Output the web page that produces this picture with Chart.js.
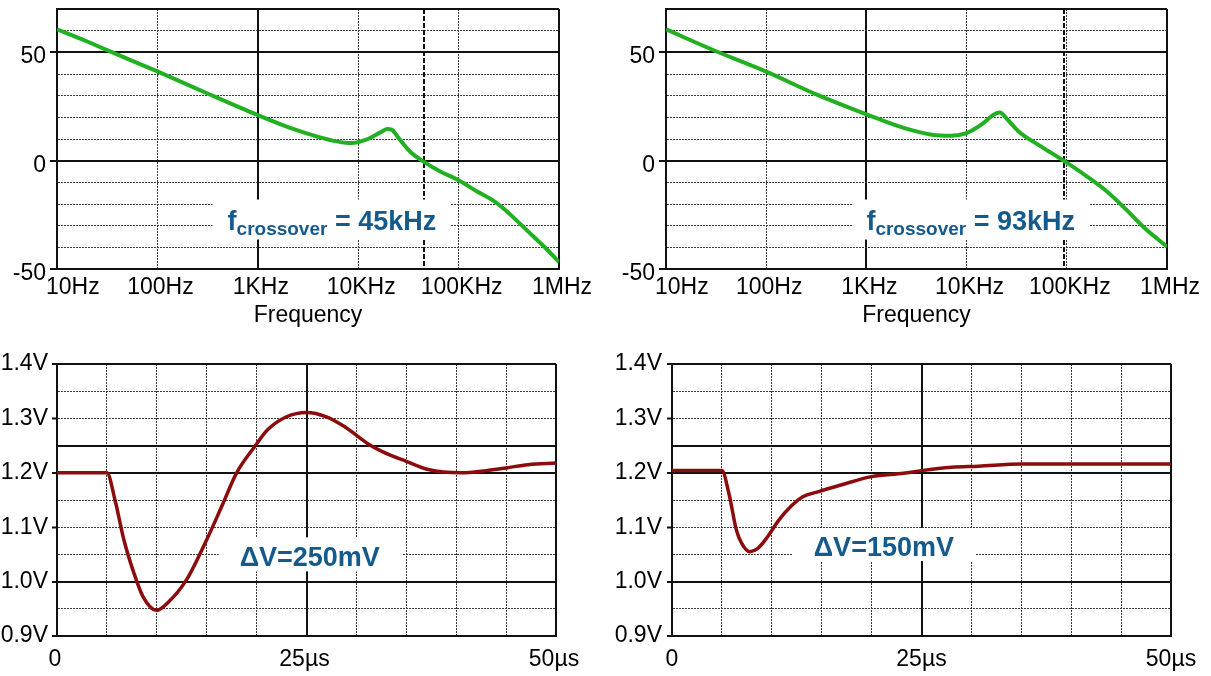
<!DOCTYPE html>
<html>
<head>
<meta charset="utf-8">
<title>Bode plots and load step</title>
<script src="https://cdn.jsdelivr.net/npm/chart.js@4.4.1/dist/chart.umd.min.js"></script>
<style>
  body { margin: 0; background: #fff; width: 1211px; height: 676px; position: relative; overflow: hidden; }
  canvas { position: absolute; }
</style>
</head>
<body>
<canvas id="gainA" width="605" height="335" style="left:0;top:0"></canvas>
<canvas id="gainB" width="606" height="335" style="left:605px;top:0"></canvas>
<canvas id="stepA" width="605" height="341" style="left:0;top:335px"></canvas>
<canvas id="stepB" width="606" height="341" style="left:605px;top:335px"></canvas>
<script>
// loop gain, left: crossover 45kHz
var freqA = [10, 20, 31.6, 100, 316, 1000, 2000, 4000, 6300, 8500, 12000, 17000, 19500, 21500, 26000, 34000, 44000, 65000, 100000, 150000, 225000, 282000, 355000, 550000, 760000, 1000000];
var gainA = [60.6, 55, 51, 41.2, 31, 21, 15.5, 11, 8.8, 8.1, 9.7, 13.3, 14.6, 14.3, 9.7, 3.5, -0.2, -4.9, -9, -14, -18.7, -22.2, -26.4, -34.8, -41, -46.8];
// loop gain, right: crossover 93kHz
var freqB = [10, 31.6, 100, 316, 1000, 2400, 4500, 7000, 10000, 14000, 18600, 21400, 25700, 33000, 55000, 93000, 158000, 250000, 390000, 617000, 1000000];
var gainB = [60.6, 50.5, 41.1, 30.6, 21.4, 15, 12, 11.5, 12.7, 16.6, 21.2, 22.2, 18.9, 13.5, 6.6, 0, -7.2, -14.1, -22.5, -31.7, -39.7];
var crossover = [45000, 93000];

// load step response (us, V)
var timeA = [0, 5, 5.8, 6.7, 7.7, 8.6, 10, 11.1, 13, 15, 16.5, 18, 19.8, 21.1, 23, 25, 27, 28.8, 31.1, 32.6, 35, 37.2, 40.5, 43, 45, 47.2, 50];
var voutA = [1.2, 1.2, 1.151, 1.077, 1.016, 0.973, 0.947, 0.961, 1.004, 1.077, 1.138, 1.2, 1.248, 1.279, 1.303, 1.311, 1.303, 1.285, 1.254, 1.239, 1.221, 1.206, 1.2, 1.204, 1.209, 1.215, 1.218];
var timeB = [0, 5, 5.7, 6.45, 7.0, 7.8, 8.6, 9.6, 10.7, 11.9, 13.1, 14.6, 17, 20, 23.2, 25, 28, 30.7, 35, 50];
var voutB = [1.204, 1.204, 1.162, 1.095, 1.07, 1.055, 1.061, 1.083, 1.113, 1.138, 1.156, 1.165, 1.178, 1.193, 1.199, 1.204, 1.21, 1.212, 1.216, 1.216];

// axes
var freqTicks = [10, 100, 1000, 10000, 100000, 1000000];
var freqLabels = ['    10Hz', '100Hz', '1KHz', '10KHz', '100KHz', '1MHz'];
var freqSolid = [10, 1000, 1000000];
var gainTicks = [-50, -40, -30, -20, -10, 0, 10, 20, 30, 40, 50, 60, 70];
var gainLabels = ['-50', '', '', '', '', '0', '', '', '', '', '50', '', ''];
var gainSolid = [-50, 0, 50, 70];
var timeTicks = [0, 5, 10, 15, 20, 25, 30, 35, 40, 45, 50];
var timeLabels = ['0', '', '', '', '', '25\u00b5s', '', '', '', '', '50\u00b5s'];
var timeSolid = [0, 25, 50];
var voltTicks = [0.9, 0.95, 1.0, 1.05, 1.1, 1.15, 1.2, 1.25, 1.3, 1.35, 1.4];
var voltLabels = ['0.9V', '', '1.0V', '', '1.1V', '', '1.2V', '', '1.3V', '', '1.4V'];
var voltSolid = [0.9, 1.0, 1.2, 1.25, 1.4];

var FONT = '"Liberation Sans", Arial, sans-serif';
var green = '#21b021';
var darkRed = '#8b0c0c';
var blue = '#145a8c';

Chart.defaults.font.family = FONT;
Chart.defaults.color = '#000';

function isOn(list, v) {
	for (var i = 0; i < list.length; i++) {
		if (Math.abs(list[i] - v) <= 1e-6 * Math.max(1, Math.abs(v))) return true;
	}
	return false;
}

function axis(ticks, labels, solid, tickLen, pad, fitSize, offset) {
	var isSolid = function(c) { return !c.tick || isOn(solid, c.tick.value); };
	return {
		afterBuildTicks: function(a) { a.ticks = ticks.map(function(v) { return {value: v}; }); },
		afterFit: function(a) { if (a.isHorizontal()) a.height = fitSize; else a.width = fitSize; },
		ticks: {
			autoSkip: false, maxRotation: 0, minRotation: 0, padding: pad, labelOffset: offset,
			// empty labels get a tiny font so they take no room in the layout
			font: function(c) { return {size: labels[c.index] ? 23 : 1}; },
			color: '#000',
			callback: function(v, i) { return labels[i]; }
		},
		grid: {
			drawTicks: tickLen > 0, tickLength: tickLen, tickWidth: 2,
			tickColor: function(c) { return labels[c.index] ? '#111' : 'rgba(0,0,0,0)'; },
			color: function(c) { return isSolid(c) ? '#111' : '#3a3a3a'; },
			lineWidth: function(c) { return isSolid(c) ? 2 : 1; }
		},
		border: {
			display: true, color: '#111', width: 2,
			dash: function(c) { return isSolid(c) ? [] : [2, 1]; }
		}
	};
}

// white box with blue text, plus the dashed crossover marker
var notePlugin = {
	id: 'note',
	beforeDatasetsDraw: function(chart, args, o) {
		var ctx = chart.ctx, xs = chart.scales.x, ys = chart.scales.y, area = chart.chartArea;
		ctx.save();
		if (o.marker) {
			var mx = Math.round(xs.getPixelForValue(o.marker));
			ctx.strokeStyle = '#111';
			ctx.lineWidth = 2;
			ctx.setLineDash([5, 2]);
			ctx.beginPath();
			ctx.moveTo(mx, area.top);
			ctx.lineTo(mx, area.bottom);
			ctx.stroke();
			ctx.setLineDash([]);
		}
		var big = 'bold 27px ' + FONT, small = 'bold 19px ' + FONT;
		var x0 = xs.getPixelForValue(o.x), yb = ys.getPixelForValue(o.y);
		ctx.font = big;
		var w1 = ctx.measureText(o.main).width;
		var w3 = o.tail ? ctx.measureText(o.tail).width : 0;
		ctx.font = small;
		var w2 = o.sub ? ctx.measureText(o.sub).width : 0;
		var p = o.pad;
		ctx.fillStyle = '#fff';
		ctx.fillRect(x0 - p[0], yb - 19 - p[1], w1 + w2 + w3 + p[0] + p[2], 19 + p[1] + p[3]);
		ctx.fillStyle = blue;
		ctx.textAlign = 'left';
		ctx.textBaseline = 'alphabetic';
		ctx.font = big;
		ctx.fillText(o.main, x0, yb);
		if (o.sub) {
			ctx.font = small;
			ctx.fillText(o.sub, x0 + w1, yb + 5);
		}
		if (o.tail) {
			ctx.font = big;
			ctx.fillText(o.tail, x0 + w1 + w2, yb);
		}
		ctx.restore();
	}
};

function pairs(xs, ys) {
	return xs.map(function(x, i) { return {x: x, y: ys[i]}; });
}

function bodePlot(id, freqs, gains, note, box) {
	var x = axis(freqTicks, freqLabels, freqSolid, 0, 5, 61, 3);
	x.type = 'logarithmic';
	x.min = 10;
	x.max = 1000000;
	x.title = {display: true, text: 'Frequency', font: {size: 23}, color: '#000', padding: {top: 0, bottom: 1}};
	var y = axis(gainTicks, gainLabels, gainSolid, 7, 4, box.yWidth, 4.5);
	y.type = 'linear';
	y.min = -50;
	y.max = 70;
	return new Chart(document.getElementById(id), {
		type: 'line',
		data: {datasets: [{data: pairs(freqs, gains), borderColor: green, borderWidth: 4, pointRadius: 0, cubicInterpolationMode: 'monotone'}]},
		options: {
			responsive: false, animation: false, events: [],
			layout: {padding: box.padding},
			plugins: {legend: {display: false}, tooltip: {enabled: false}, note: note},
			scales: {x: x, y: y}
		},
		plugins: [notePlugin]
	});
}

function stepPlot(id, times, volts, note, box) {
	var x = axis(timeTicks, timeLabels, timeSolid, 0, 10, 40, box.xOffset);
	x.type = 'linear';
	x.min = 0;
	x.max = 50;
	var y = axis(voltTicks, voltLabels, voltSolid, 5, box.yPad, box.yWidth, 0);
	y.type = 'linear';
	y.min = 0.9;
	y.max = 1.4;
	return new Chart(document.getElementById(id), {
		type: 'line',
		data: {datasets: [{data: pairs(times, volts), borderColor: darkRed, borderWidth: 3.5, pointRadius: 0, cubicInterpolationMode: 'monotone'}]},
		options: {
			responsive: false, animation: false, events: [],
			layout: {padding: box.padding},
			plugins: {legend: {display: false}, tooltip: {enabled: false}, note: note},
			scales: {x: x, y: y}
		},
		plugins: [notePlugin]
	});
}

bodePlot('gainA', freqA, gainA,
	{marker: crossover[0], x: 500, y: -31.8, main: 'f', sub: 'crossover', tail: ' = 45kHz', pad: [15, 11, 14, 10]},
	{yWidth: 57, padding: {left: 0, right: 46, top: 9, bottom: 5}});
bodePlot('gainB', freqB, gainB,
	{marker: crossover[1], x: 1000, y: -31.8, main: 'f', sub: 'crossover', tail: ' = 93kHz', pad: [13, 11, 14, 10]},
	{yWidth: 60, padding: {left: 1, right: 44, top: 9, bottom: 5}});
stepPlot('stepA', timeA, voutA,
	{x: 18.3, y: 1.028, main: '\u0394V=250mV', pad: [21, 10, 23, 5]},
	{yWidth: 57, yPad: 4, xOffset: -2, padding: {left: 0, right: 49, top: 29, bottom: 0}});
stepPlot('stepB', timeB, voutB,
	{x: 14.2, y: 1.047, main: '\u0394V=150mV', pad: [21, 9, 21, 5]},
	{yWidth: 67, yPad: 5, xOffset: 0, padding: {left: 0, right: 40, top: 29, bottom: 0}});
</script>
</body>
</html>
